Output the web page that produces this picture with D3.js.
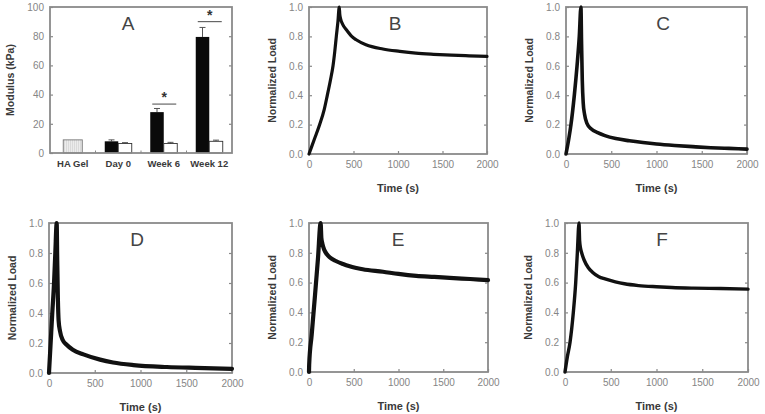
<!DOCTYPE html>
<html>
<head>
<meta charset="utf-8">
<script src="https://cdn.jsdelivr.net/npm/d3@7"></script>
<style>
  body { margin: 0; background: #fff; }
  svg { display: block; font-family: "Liberation Sans", Arial, sans-serif; }
  .tick text { fill: #858585; font-size: 10px; }
  .tick line { stroke: #888; stroke-width: 1.2; }
  .axis-title { fill: #3a3a3a; font-weight: bold; font-size: 10.5px; }
  .panel-letter { fill: #444; font-size: 19px; }
  .curve { fill: none; stroke: #111; stroke-linejoin: round; stroke-linecap: round; }
</style>
</head>
<body>
<div id="chart"></div>
<script>
// Panel A: modulus bars
const categories = ['HA Gel', 'Day 0', 'Week 6', 'Week 12'];
const gelValue = 9;
const blackValues = [null, 8, 28, 79.5];
const blackErrors = [null, 1, 2.5, 6.5];
const whiteValues = [null, 6.5, 6.5, 8];
const whiteErrors = [null, 0.6, 0.8, 0.8];
const sigLevels = [null, null, 33.5, 90];
const modulusTicks = [0, 20, 40, 60, 80, 100];

// Panels B-F: normalized load vs time, [time (s), load]
const timeTicks = [0, 500, 1000, 1500, 2000];
const loadTicks = [0, 0.2, 0.4, 0.6, 0.8, 1.0];

const curveB = [[0,0],[60,0.1],[120,0.2],[170,0.3],[206,0.4],[240,0.5],[270,0.6],[290,0.7],[307,0.8],[325,0.9],[340,1.0],
  [346,0.95],[355,0.92],[380,0.88],[420,0.845],[480,0.8],[530,0.777],[640,0.743],[830,0.714],[1020,0.698],[1200,0.686],
  [1400,0.678],[1600,0.672],[1800,0.668],[2000,0.664]];
const curveC = [[0,0],[30,0.1],[55,0.2],[92,0.4],[122,0.6],[147,0.8],[165,1.0],[172,0.75],[180,0.5],[190,0.35],[205,0.27],
  [230,0.21],[280,0.17],[350,0.145],[430,0.125],[550,0.105],[700,0.09],[850,0.078],[1000,0.068],[1200,0.058],[1400,0.05],
  [1600,0.043],[1800,0.038],[2000,0.033]];
const curveD = [[0,0],[18,0.2],[36,0.4],[55,0.6],[69,0.8],[84,1.0],[90,0.75],[97,0.5],[105,0.35],[120,0.28],[150,0.22],
  [190,0.19],[260,0.155],[376,0.124],[558,0.089],[700,0.07],[923,0.053],[1288,0.04],[1600,0.034],[2000,0.028]];
const curveE = [[0,0],[2,0.05],[30,0.25],[65,0.5],[100,0.76],[130,1.0],[138,0.9],[150,0.86],[170,0.82],[200,0.79],[231,0.77],
  [300,0.745],[380,0.725],[454,0.71],[600,0.69],[827,0.673],[1000,0.658],[1199,0.645],[1400,0.638],[1572,0.632],[1800,0.624],[2000,0.617]];
const curveF = [[0,0],[25,0.1],[55,0.2],[91,0.4],[117,0.6],[135,0.8],[153,1.0],[160,0.88],[170,0.83],[182,0.8],[210,0.75],
  [255,0.7],[300,0.67],[370,0.64],[438,0.625],[550,0.605],[650,0.592],[803,0.58],[1000,0.572],[1168,0.567],[1400,0.563],
  [1700,0.56],[2000,0.556]];

const W = 765, H = 414;
const svg = d3.select('#chart').append('svg').attr('width', W).attr('height', H);

// faint texture for HA Gel bar
svg.append('defs').append('pattern')
    .attr('id', 'hatch').attr('width', 2).attr('height', 2)
    .attr('patternUnits', 'userSpaceOnUse')
  .call(p => {
    p.append('rect').attr('width', 2).attr('height', 2).attr('fill', '#ececec');
    p.append('rect').attr('width', 1).attr('height', 2).attr('fill', '#dadada');
  });

function drawFrame(g, l, t, r, b) {
  g.append('rect')
    .attr('x', l).attr('y', t).attr('width', r - l).attr('height', b - t)
    .attr('fill', 'none').attr('stroke', '#8a8a8a').attr('stroke-width', 1.8);
}

// ---------- Panel A ----------
(function () {
  const l = 50, r = 232, t = 7, b = 153;
  const g = svg.append('g');
  const x = d3.scaleBand().domain(categories).range([l, r]);
  const y = d3.scaleLinear().domain([0, 100]).range([b, t]);

  g.append('g').attr('transform', `translate(${l},0)`)
    .call(d3.axisLeft(y).tickValues(modulusTicks).tickSizeInner(-3).tickSizeOuter(0).tickPadding(6))
    .call(a => a.select('.domain').remove());
  g.append('g').attr('transform', `translate(${r},0)`)
    .call(d3.axisRight(y).tickValues(modulusTicks.slice(1, -1)).tickSizeInner(-3).tickSizeOuter(0).tickFormat(() => ''))
    .call(a => a.select('.domain').remove());
  // boundary ticks between groups
  g.selectAll('.bt').data(categories.slice(1)).enter().append('line')
    .attr('x1', d => x(d)).attr('x2', d => x(d))
    .attr('y1', b).attr('y2', b - 2.5).attr('stroke', '#888');

  const bw = 13.5;
  // HA Gel
  g.append('rect')
    .attr('x', x('HA Gel') + x.bandwidth() / 2 - 9.5).attr('width', 19)
    .attr('y', y(gelValue)).attr('height', b - y(gelValue))
    .attr('fill', 'url(#hatch)').attr('stroke', '#777').attr('stroke-width', 0.9);

  categories.forEach((c, i) => {
    if (blackValues[i] == null) return;
    const cx = x(c) + x.bandwidth() / 2;
    // error bars (upper only)
    [[cx - bw / 2, blackValues[i], blackErrors[i]], [cx + bw / 2, whiteValues[i], whiteErrors[i]]].forEach(([xc, v, e]) => {
      g.append('line').attr('x1', xc).attr('x2', xc).attr('y1', y(v)).attr('y2', y(v + e))
        .attr('stroke', '#555').attr('stroke-width', 1);
      g.append('line').attr('x1', xc - 3).attr('x2', xc + 3).attr('y1', y(v + e)).attr('y2', y(v + e))
        .attr('stroke', '#555').attr('stroke-width', 1);
    });
    g.append('rect').attr('x', cx - bw).attr('width', bw)
      .attr('y', y(blackValues[i])).attr('height', b - y(blackValues[i]))
      .attr('fill', '#0a0a0a');
    g.append('rect').attr('x', cx).attr('width', bw)
      .attr('y', y(whiteValues[i])).attr('height', b - y(whiteValues[i]))
      .attr('fill', '#fff').attr('stroke', '#333').attr('stroke-width', 0.9);
    if (sigLevels[i] != null) {
      g.append('line').attr('x1', cx - bw + 2).attr('x2', cx + bw - 1)
        .attr('y1', y(sigLevels[i])).attr('y2', y(sigLevels[i]))
        .attr('stroke', '#666').attr('stroke-width', 1.2);
      g.append('text').attr('x', cx + 0.5).attr('y', y(sigLevels[i]) - 2)
        .attr('text-anchor', 'middle').attr('fill', '#333')
        .style('font-size', '14px').style('font-weight', 'bold').text('*');
    }
  });
  drawFrame(g, l, t, r, b);

  g.selectAll('.cat').data(categories).enter().append('text')
    .attr('class', 'axis-title').style('font-size', '9.5px')
    .attr('x', d => x(d) + x.bandwidth() / 2).attr('y', 167)
    .attr('text-anchor', 'middle').text(d => d);

  g.append('text').attr('class', 'axis-title')
    .attr('transform', `translate(14,${(t + b) / 2}) rotate(-90)`)
    .attr('text-anchor', 'middle').text('Modulus (kPa)');
  g.append('text').attr('class', 'panel-letter')
    .attr('x', 128).attr('y', 30).attr('text-anchor', 'middle').text('A');
})();

// ---------- Panels B-F ----------
const panels = [
  { id: 'B', data: curveB, l: 309, r: 487, t: 7, b: 154, lw: 3.2, lx: 395, ylab: 276 },
  { id: 'C', data: curveC, l: 566, r: 747, t: 7, b: 154, lw: 3.6, lx: 663, ylab: 533 },
  { id: 'D', data: curveD, l: 49, r: 232, t: 223, b: 373, lw: 4.2, lx: 137, ylab: 16 },
  { id: 'E', data: curveE, l: 309, r: 488, t: 223, b: 372, lw: 4.2, lx: 398, ylab: 276 },
  { id: 'F', data: curveF, l: 565, r: 748, t: 223, b: 372, lw: 3.4, lx: 662, ylab: 532 }
];

panels.forEach(p => {
  const g = svg.append('g');
  const x = d3.scaleLinear().domain([0, 2000]).range([p.l, p.r]);
  const y = d3.scaleLinear().domain([0, 1]).range([p.b, p.t]);

  g.append('g').attr('transform', `translate(0,${p.b})`)
    .call(d3.axisBottom(x).tickValues(timeTicks).tickFormat(d3.format('d'))
      .tickSizeInner(-3).tickSizeOuter(0).tickPadding(7))
    .call(a => a.select('.domain').remove());
  g.append('g').attr('transform', `translate(${p.l},0)`)
    .call(d3.axisLeft(y).tickValues(loadTicks).tickFormat(d3.format('.1f')).tickSizeInner(-3).tickSizeOuter(0).tickPadding(6))
    .call(a => a.select('.domain').remove());
  g.append('g').attr('transform', `translate(${p.r},0)`)
    .call(d3.axisRight(y).tickValues(loadTicks.slice(1, -1)).tickSizeInner(-3).tickSizeOuter(0).tickFormat(() => ''))
    .call(a => a.select('.domain').remove());
  drawFrame(g, p.l, p.t, p.r, p.b);

  const line = d3.line().x(d => x(d[0])).y(d => y(d[1])).curve(d3.curveMonotoneX);
  g.append('path').attr('class', 'curve').attr('d', line(p.data)).attr('stroke-width', p.lw);

  g.append('text').attr('class', 'axis-title')
    .attr('x', (p.l + p.r) / 2).attr('y', p.b + 38).attr('text-anchor', 'middle')
    .style('font-size', '11px').text('Time (s)');
  g.append('text').attr('class', 'axis-title')
    .attr('transform', `translate(${p.ylab},${(p.t + p.b) / 2}) rotate(-90)`)
    .attr('text-anchor', 'middle').text('Normalized Load');
  g.append('text').attr('class', 'panel-letter')
    .attr('x', p.lx).attr('y', p.t + 23).attr('text-anchor', 'middle').text(p.id);
});
</script>
</body>
</html>
